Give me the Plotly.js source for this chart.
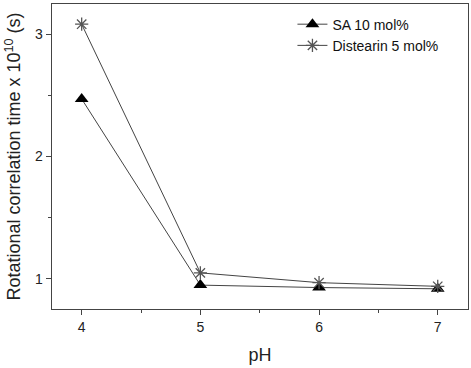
<!DOCTYPE html>
<html>
<head>
<meta charset="utf-8">
<script src="https://cdn.plot.ly/plotly-3.0.1.min.js"></script>
<style>
  html, body { margin: 0; padding: 0; background: #fff; }
  #chart { width: 471px; height: 368px; }
</style>
</head>
<body>
<div id="chart"></div>
<script>
// pH values and rotational correlation times (x 10^10 s)
const pH = [4, 5, 6, 7];
const saTimes = [2.47, 0.95, 0.93, 0.92];
const distearinTimes = [3.08, 1.05, 0.97, 0.94];
const seriesNames = ['SA 10 mol%', 'Distearin 5 mol%'];
const xTicks = [4, 5, 6, 7];
const yTicks = [1, 2, 3];

const lineStyle = { color: '#444', width: 1 };
const fontFamily = 'Liberation Sans, Arial, sans-serif';

const traces = [
  {
    x: pH, y: saTimes, name: seriesNames[0],
    type: 'scatter', mode: 'lines+markers',
    line: lineStyle,
    marker: { symbol: 'triangle-up', size: 12, color: '#000', line: { width: 0 } }
  },
  {
    x: pH, y: distearinTimes, name: seriesNames[1],
    type: 'scatter', mode: 'lines+markers',
    line: lineStyle,
    marker: { symbol: 'asterisk-open', size: 11, color: '#555', line: { color: '#555', width: 1.3 } }
  }
];

const axisCommon = {
  showgrid: false, zeroline: false,
  showline: true, mirror: true, linecolor: '#444', linewidth: 1.3,
  ticks: 'outside', ticklen: 5, tickcolor: '#444', tickwidth: 1,
  tickfont: { family: fontFamily, size: 14, color: '#222' }
};

const layout = {
  width: 471, height: 368,
  margin: { l: 52, r: 3, t: 4, b: 59 },
  paper_bgcolor: '#fff', plot_bgcolor: '#fff',
  showlegend: true,
  legend: {
    x: 0.578, y: 0.985, xanchor: 'left', yanchor: 'top',
    bgcolor: 'rgba(0,0,0,0)', borderwidth: 0,
    font: { family: fontFamily, size: 14, color: '#111' },
    tracegroupgap: 0
  },
  xaxis: Object.assign({}, axisCommon, {
    range: [3.75, 7.255],
    tickvals: xTicks,
    minor: { ticks: 'outside', ticklen: 3, tickcolor: '#444', tick0: 4.5, dtick: 1 },
    title: { text: 'pH', standoff: 14,
      font: { family: fontFamily, size: 18, color: '#222' } }
  }),
  yaxis: Object.assign({}, axisCommon, {
    range: [0.755, 3.245],
    tickvals: yTicks,
    minor: { ticks: 'outside', ticklen: 3, tickcolor: '#444', tick0: 1.5, dtick: 1 },
    title: { text: 'Rotational correlation time x 10<sup>10</sup> (s)', standoff: 9,
      font: { family: fontFamily, size: 18, color: '#222' } }
  })
};

Plotly.newPlot('chart', traces, layout, { displayModeBar: false, staticPlot: true });
</script>
</body>
</html>
